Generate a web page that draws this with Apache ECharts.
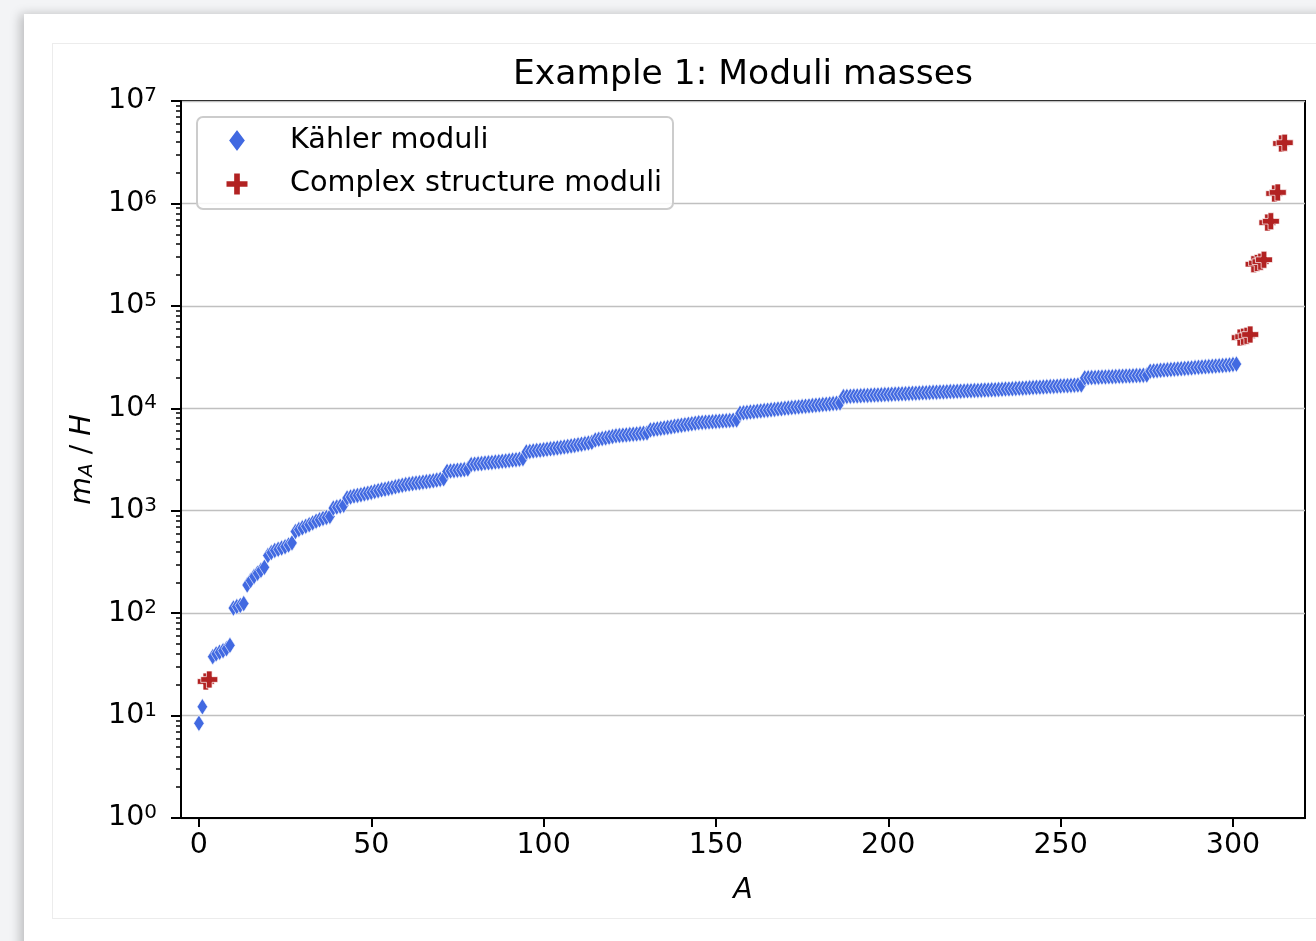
<!DOCTYPE html>
<html>
<head>
<meta charset="utf-8">
<title>Example 1: Moduli masses</title>
<script src="https://cdn.jsdelivr.net/npm/echarts@6/dist/echarts.min.js"></script>
<style>
  html, body { margin: 0; padding: 0; width: 1316px; height: 941px; overflow: hidden; background: #f3f4f6; }
  .card { position: absolute; left: 24px; top: 14px; width: 1320px; height: 960px; background: #fff;
          box-shadow: -4px 0 10px rgba(0,0,0,0.22); }
  .panel { position: absolute; left: 52px; top: 43px; width: 1290px; height: 874px; border: 1px solid #ececec; background: #fff; }
  #chart { position: absolute; left: 52px; top: 43px; width: 1264px; height: 875px; }
</style>
</head>
<body>
<div class="card"></div>
<div class="panel"></div>
<div id="chart"></div>
<script>
// Rank A of every modulus, sorted by mass; the complex structure moduli occupy these ranks
const complexA = [2, 3, 302, 303, 304, 305, 306, 307, 308, 309, 310, 311, 312, 313, 314, 315];
const complexMass = [21.5, 22.5, 49000, 50000, 51000, 52500, 255000, 262000, 270000, 282000,
                     650000, 670000, 1250000, 1280000, 3850000, 3920000];

// Kähler moduli masses m_A/H, in increasing rank order (all remaining ranks 0..315)
const kahlerMass = [
  8.4, 12.2,
  37.6, 40, 41.5, 43, 45, 48.5,
  112, 116, 119, 124,
  188, 208, 228, 245, 262, 280,
  365, 390, 410, 420, 432, 445, 462, 485,
  625, 655, 680, 705, 730, 760, 790, 815, 840, 860, 880,
  1060, 1085, 1105, 1130,
  1330, 1360, 1390, 1410, 1430, 1460, 1480, 1510, 1540, 1570, 1600, 1620, 1650, 1680, 1710, 1740, 1770, 1800,
  1820, 1840, 1860, 1880, 1900, 1920, 1940, 1960, 1990, 2020, 2050,
  2420, 2440, 2460, 2480, 2500, 2520, 2550,
  2820, 2850, 2870, 2890, 2920, 2940, 2960, 2990, 3010, 3040, 3060, 3090, 3120, 3150, 3180, 3220,
  3750, 3790, 3830, 3870, 3900, 3940, 3980, 4020, 4060, 4100, 4150, 4190, 4240, 4290, 4340, 4400, 4460, 4520, 4580, 4650,
  4900, 4980, 5060, 5140, 5220, 5300, 5380,
  5420, 5460, 5500, 5540, 5580, 5620, 5660, 5700, 5740,
  6150, 6220, 6290, 6360, 6430, 6500, 6580, 6660, 6740, 6820, 6900, 6980, 7060, 7150, 7240,
  7280, 7320, 7360, 7400, 7440, 7480, 7520, 7560, 7600, 7650, 7700,
  8950, 9030, 9110, 9190, 9270, 9350, 9430, 9510, 9590, 9670, 9750, 9830, 9910, 9990, 10070,
  10150, 10230, 10310, 10390, 10470, 10550, 10630, 10710, 10790, 10870, 10950, 11030, 11110, 11190, 11280,
  13000, 13050, 13100, 13150, 13200, 13250, 13300, 13350, 13400, 13450, 13500, 13550, 13600, 13650, 13700, 13750,
  13800, 13850, 13900, 13950, 14000, 14050, 14100, 14150, 14200, 14250, 14300, 14350, 14400, 14450, 14500, 14550,
  14600, 14650, 14700, 14750, 14800, 14850, 14900, 14950, 15000, 15050, 15100, 15150, 15200, 15250, 15300, 15400,
  15450, 15520, 15590, 15660, 15730, 15800, 15870, 15940, 16010, 16080, 16150, 16220, 16290, 16360, 16430, 16500,
  16570, 16640, 16710, 16780, 16850, 16900,
  19800, 19870, 19940, 20010, 20080, 20150, 20220, 20290, 20360, 20430, 20500, 20570, 20640, 20710, 20780, 20850,
  20920, 21000, 21100,
  23000, 23150, 23300, 23450, 23600, 23750, 23900, 24050, 24200, 24350, 24500, 24650, 24800, 24950, 25100, 25250,
  25400, 25550, 25700, 25850, 26000, 26150, 26300, 26500, 26750, 27000
];

const xTicks = [0, 50, 100, 150, 200, 250, 300];
const yMajorTicks = [1, 10, 100, 1000, 10000, 100000, 1000000, 10000000];
const yMinorTicks = [];
for (let d = 1; d < 1e7; d *= 10) {
  for (let k = 2; k <= 9; k++) yMinorTicks.push(k * d);
}

// Pair each Kähler mass with the ranks not taken by complex structure moduli
const totalCount = kahlerMass.length + complexA.length;
const kahlerA = [];
for (let a = 0; a < totalCount; a++) if (complexA.indexOf(a) < 0) kahlerA.push(a);

const kahlerData = kahlerMass.map((m, i) => [kahlerA[i], m]);
const complexData = complexMass.map((m, i) => [complexA[i], m]);

const FONT = "'DejaVu Sans', 'Liberation Sans', sans-serif";
const PLUS = 'path://M2,0H4V2H6V4H4V6H2V4H0V2H2Z';

const chart = echarts.init(document.getElementById('chart'), null, { renderer: 'canvas' });
chart.setOption({
  animation: false,
  backgroundColor: 'transparent',
  textStyle: { fontFamily: FONT, color: '#000' },
  title: {
    text: 'Example 1: Moduli masses',
    left: 686, top: 10, textAlign: 'center',
    textStyle: { fontFamily: FONT, fontSize: 34.5, fontWeight: 'normal', color: '#000' }
  },
  grid: {
    left: 129, right: 11, top: 58, bottom: 100,
    show: true, borderColor: '#000', borderWidth: 2, backgroundColor: 'transparent'
  },
  graphic: [{
    type: 'rect', z: 50, left: 144, top: 73,
    shape: { width: 476, height: 92, r: 6 },
    style: { fill: 'rgba(255,255,255,0.85)', stroke: '#cccccc', lineWidth: 2 }
  }],
  legend: [{
    z: 60, left: 175, top: 83, orient: 'vertical',
    itemWidth: 18, itemHeight: 24, padding: 0,
    data: [{ name: 'Kähler moduli', icon: 'diamond' }],
    textStyle: { fontFamily: FONT, fontSize: 28.7, color: '#000', padding: [0, 0, 0, 39] }
  }, {
    z: 60, left: 172.5, top: 126.5, orient: 'vertical',
    itemWidth: 23, itemHeight: 23, padding: 0,
    data: [{ name: 'Complex structure moduli', icon: PLUS }],
    textStyle: { fontFamily: FONT, fontSize: 28.7, color: '#000', padding: [0, 0, 0, 36.5] }
  }],
  xAxis: {
    type: 'value', min: -5.2, max: 320.9,
    name: 'A', nameLocation: 'middle', nameGap: 58,
    nameTextStyle: { fontFamily: FONT, fontSize: 28.5, fontStyle: 'italic', color: '#000' },
    axisLine: { show: true, onZero: false, lineStyle: { color: '#000', width: 2 } },
    axisTick: { show: true, length: 9, customValues: xTicks, lineStyle: { color: '#000', width: 2 } },
    axisLabel: { customValues: xTicks, margin: 13, fontFamily: FONT, fontSize: 28.5, color: '#000' },
    splitLine: { show: false }
  },
  yAxis: [{
    type: 'log', logBase: 10, min: 1, max: 1e7, splitNumber: 7,
    name: '{i|m}{s|A}{n| / }{i|H}', nameLocation: 'middle', nameGap: 80, nameRotate: 90,
    nameTextStyle: {
      fontFamily: FONT, fontSize: 28.5, color: '#000',
      rich: {
        i: { fontFamily: FONT, fontSize: 28.5, fontStyle: 'italic', color: '#000' },
        s: { fontFamily: FONT, fontSize: 20, fontStyle: 'italic', color: '#000', padding: [10, 0, 0, 0] },
        n: { fontFamily: FONT, fontSize: 28.5, color: '#000' }
      }
    },
    axisLine: { show: true, onZero: false, lineStyle: { color: '#000', width: 2 } },
    axisTick: { show: true, length: 10, customValues: yMajorTicks, lineStyle: { color: '#000', width: 2 } },
    axisLabel: {
      customValues: yMajorTicks, margin: 24,
      formatter: v => '{b|10}{e|' + Math.round(Math.log10(v)) + '}',
      rich: {
        b: { fontFamily: FONT, fontSize: 28.5, color: '#000', lineHeight: 30 },
        e: { fontFamily: FONT, fontSize: 20, color: '#000', lineHeight: 20, verticalAlign: 'top', padding: [0, 0, 10, 0] }
      }
    },
    splitLine: { show: true, lineStyle: { color: '#c0c0c0', width: 1.3 } }
  }, {
    type: 'log', logBase: 10, min: 1, max: 1e7, position: 'left',
    axisLine: { show: false, onZero: false },
    axisTick: { show: true, length: 5, customValues: yMinorTicks, lineStyle: { color: '#000', width: 1.5 } },
    axisLabel: { show: false },
    splitLine: { show: false }
  }],
  series: [{
    name: 'Kähler moduli', type: 'scatter', yAxisIndex: 0,
    symbol: 'diamond', symbolSize: [10.5, 16.5],
    itemStyle: { color: '#4169e1', borderColor: '#ffffff', borderWidth: 0.6, opacity: 1 },
    data: kahlerData, z: 3
  }, {
    name: 'Complex structure moduli', type: 'scatter', yAxisIndex: 0,
    symbol: PLUS, symbolSize: 17,
    itemStyle: { color: '#b22222', borderColor: '#ffffff', borderWidth: 0.7, opacity: 1 },
    data: complexData, z: 4
  }]
});
</script>
</body>
</html>
